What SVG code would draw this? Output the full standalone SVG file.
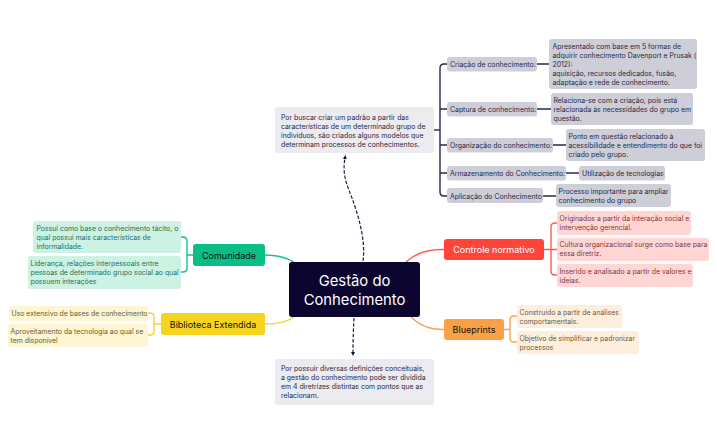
<svg xmlns="http://www.w3.org/2000/svg" width="717" height="444" viewBox="0 0 717 444">
<style>
text{font-family:"Inter","Liberation Sans",sans-serif;font-size:6.9px}
.c{fill:none;stroke-width:1.4}
.dk{stroke:#2a2850}.rd{stroke:#ff5a50}.or{stroke:#f9a553}.gr{stroke:#19c08a}.ye{stroke:#f5d52c}
.n{fill:#ecebef}.g{fill:#cdced8}.r{fill:#ffd6d4}.o{fill:#fdeedd}.m{fill:#cbf2e3}.y{fill:#fdf5d3}
.tn{fill:#2a2945}.tr{fill:#7d3a3e}.to{fill:#6f5a40}.tm{fill:#2d6e5c}.ty{fill:#6b6130}
.b{text-anchor:middle;font-size:9px}
.h{fill:#fff;text-anchor:middle;font-size:14.800px}
.d{fill:none;stroke:#1c1a45;stroke-width:1.2;stroke-dasharray:3.500 1.800}
</style>
<defs>
<marker id="ah" markerWidth="4" markerHeight="4" refX="1" refY="2" orient="auto" markerUnits="userSpaceOnUse"><path d="M0,0L4,2L0,4Z" fill="#14123c"/></marker>
</defs>
<rect width="717" height="444" fill="#fff"/>
<g id="connectors">
<path class="c dk" d="M434 130H440"/>
<path class="c dk" d="M447 64H444Q440 64 440 68V192Q440 196 444 196H447M440 109H447M440 145H447M440 173H447"/>
<path class="c dk" d="M537 64H549M537 109H551M553 145H566M566 173H579M543 196H556"/>
<path class="c rd" d="M406 262Q420 249 444 249.500M544 249.500H551M557 223H555Q551 223 551 227V271Q551 275 555 275H557M551 249.500H557"/>
<path class="c or" d="M411 317Q424 330 444 329.500M504 329.500H510M517 316H514Q510 316 510 320V338Q510 342 514 342H517"/>
<path class="c gr" d="M265 255Q282 255 294 262M181 237H183Q187 237 187 241V268Q187 272 183 272H181M187 255H193"/>
<path class="c ye" d="M265 324Q284 324 294 317M148 313H150Q154 313 154 317V331Q154 335 150 335H148M154 324H161"/>
<path class="d" d="M363 261C366 240 358 215 352 198C347 185 342 175 345 158" marker-end="url(#ah)"/>
<path class="d" d="M354 318Q353 335 353 353" marker-end="url(#ah)"/>
</g>
<g id="center"><rect x="289" y="262" width="131" height="55" rx="3" fill="#0b0530"/><text class="h" x="354.500" y="285.500">Gestão do</text><text class="h" x="354.500" y="304.500">Conhecimento</text></g>
<g id="note-top"><rect class="n" x="275" y="107" width="159" height="46" rx="3"/><text class="tn" x="281" y="119.500">Por buscar criar um padrão a partir das</text><text class="tn" x="281" y="128.500">características de um determinado grupo de</text><text class="tn" x="281" y="137.500">indivíduos, são criados alguns modelos que</text><text class="tn" x="281" y="146.500">determinam processos de conhecimentos.</text></g>
<g id="note-bottom"><rect class="n" x="275" y="359" width="159" height="46" rx="3"/><text class="tn" x="281" y="371">Por possuir diversas definições conceituais,</text><text class="tn" x="281" y="380">a gestão do conhecimento pode ser dividida</text><text class="tn" x="281" y="389">em 4 diretrizes distintas com pontos que as</text><text class="tn" x="281" y="398">relacionam.</text></g>
<g id="criacao"><rect class="g" x="447" y="57" width="90" height="14.500" rx="3"/><text class="tn" x="450" y="67">Criação de conhecimento:</text></g>
<g id="criacao-d"><rect class="g" x="549" y="39" width="148" height="50" rx="3"/><text class="tn" x="552.500" y="49">Apresentado com base em 5 formas de</text><text class="tn" x="552.500" y="58">adquirir conhecimento Davenport e Prusak (</text><text class="tn" x="552.500" y="67">2012):</text><text class="tn" x="552.500" y="76">aquisição, recursos dedicados, fusão,</text><text class="tn" x="552.500" y="85">adaptação e rede de conhecimento.</text></g>
<g id="captura"><rect class="g" x="447" y="102" width="90" height="14.500" rx="3"/><text class="tn" x="450" y="112">Captura de conhecimento:</text></g>
<g id="captura-d"><rect class="g" x="551" y="93" width="142" height="32" rx="3"/><text class="tn" x="553.500" y="103">Relaciona-se com a criação, pois está</text><text class="tn" x="553.500" y="112">relacionada às necessidades do grupo em</text><text class="tn" x="553.500" y="121">questão.</text></g>
<g id="organizacao"><rect class="g" x="447" y="138" width="106" height="14.500" rx="3"/><text class="tn" x="450" y="148">Organização do conhecimento:</text></g>
<g id="organizacao-d"><rect class="g" x="566" y="129" width="139" height="32" rx="3"/><text class="tn" x="568.500" y="139">Ponto em questão relacionado à</text><text class="tn" x="568.500" y="148">acessibilidade e entendimento do que foi</text><text class="tn" x="568.500" y="157">criado pelo grupo.</text></g>
<g id="armazenamento"><rect class="g" x="447" y="166" width="119" height="14.500" rx="3"/><text class="tn" x="450" y="176">Armazenamento do Conhecimento:</text></g>
<g id="armazenamento-d"><rect class="g" x="579" y="166" width="86" height="14.500" rx="3"/><text class="tn" x="582" y="176">Utilização de tecnologias</text></g>
<g id="aplicacao"><rect class="g" x="447" y="188" width="96" height="15" rx="3"/><text class="tn" x="450" y="198.500">Aplicação do Conhecimento</text></g>
<g id="aplicacao-d"><rect class="g" x="556" y="184" width="115" height="23" rx="3"/><text class="tn" x="558.500" y="194">Processo importante para ampliar</text><text class="tn" x="558.500" y="203">conhecimento do grupo</text></g>
<g id="controle"><rect x="444" y="239" width="100" height="21" rx="3" fill="#ff4539"/><text class="b" x="494" y="253" fill="#fff">Controle normativo</text></g>
<g id="controle-1"><rect class="r" x="557" y="211" width="134" height="24" rx="3"/><text class="tr" x="559.500" y="221">Originados a partir da interação social e</text><text class="tr" x="559.500" y="230">intervenção gerencial.</text></g>
<g id="controle-2"><rect class="r" x="557" y="238" width="152" height="23" rx="3"/><text class="tr" x="559.500" y="247">Cultura organizacional surge como base para</text><text class="tr" x="559.500" y="256">essa diretriz.</text></g>
<g id="controle-3"><rect class="r" x="557" y="264" width="136" height="23" rx="3"/><text class="tr" x="559.500" y="273.500">Inserido e analisado a partir de valores e</text><text class="tr" x="559.500" y="282.500">ideias.</text></g>
<g id="blueprints"><rect x="444" y="319" width="60" height="21" rx="3" fill="#f9a144"/><text class="b" x="474" y="333" fill="#111">Blueprints</text></g>
<g id="blueprints-1"><rect class="o" x="517" y="305" width="105" height="23" rx="3"/><text class="to" x="519.500" y="315">Construído a partir de análises</text><text class="to" x="519.500" y="324">comportamentais.</text></g>
<g id="blueprints-2"><rect class="o" x="517" y="331" width="122" height="23" rx="3"/><text class="to" x="519.500" y="341">Objetivo de simplificar e padronizar</text><text class="to" x="519.500" y="350">processos</text></g>
<g id="comunidade"><rect x="193" y="244" width="72" height="22" rx="3" fill="#0abf85"/><text class="b" x="229" y="258.500" fill="#111">Comunidade</text></g>
<g id="comunidade-1"><rect class="m" x="33" y="221" width="148" height="32" rx="3"/><text class="tm" x="36.500" y="231">Possui como base o conhecimento tácito, o</text><text class="tm" x="36.500" y="240">qual possui mais características de</text><text class="tm" x="36.500" y="249">informalidade.</text></g>
<g id="comunidade-2"><rect class="m" x="28" y="256" width="153" height="33" rx="3"/><text class="tm" x="30.500" y="266">Liderança, relações interpessoais entre</text><text class="tm" x="30.500" y="275">pessoas de determinado grupo social ao qual</text><text class="tm" x="30.500" y="284">possuem interações</text></g>
<g id="biblioteca"><rect x="161" y="313" width="104" height="22" rx="3" fill="#f5d321"/><text class="b" x="213" y="327.500" fill="#111">Biblioteca Extendida</text></g>
<g id="biblioteca-1"><rect class="y" x="9" y="306" width="139" height="15" rx="3"/><text class="ty" x="11.500" y="316">Uso extensivo de bases de conhecimento</text></g>
<g id="biblioteca-2"><rect class="y" x="8" y="324" width="140" height="23" rx="3"/><text class="ty" x="10.500" y="334">Aproveitamento da tecnologia ao qual se</text><text class="ty" x="10.500" y="343">tem disponível</text></g>
</svg>
